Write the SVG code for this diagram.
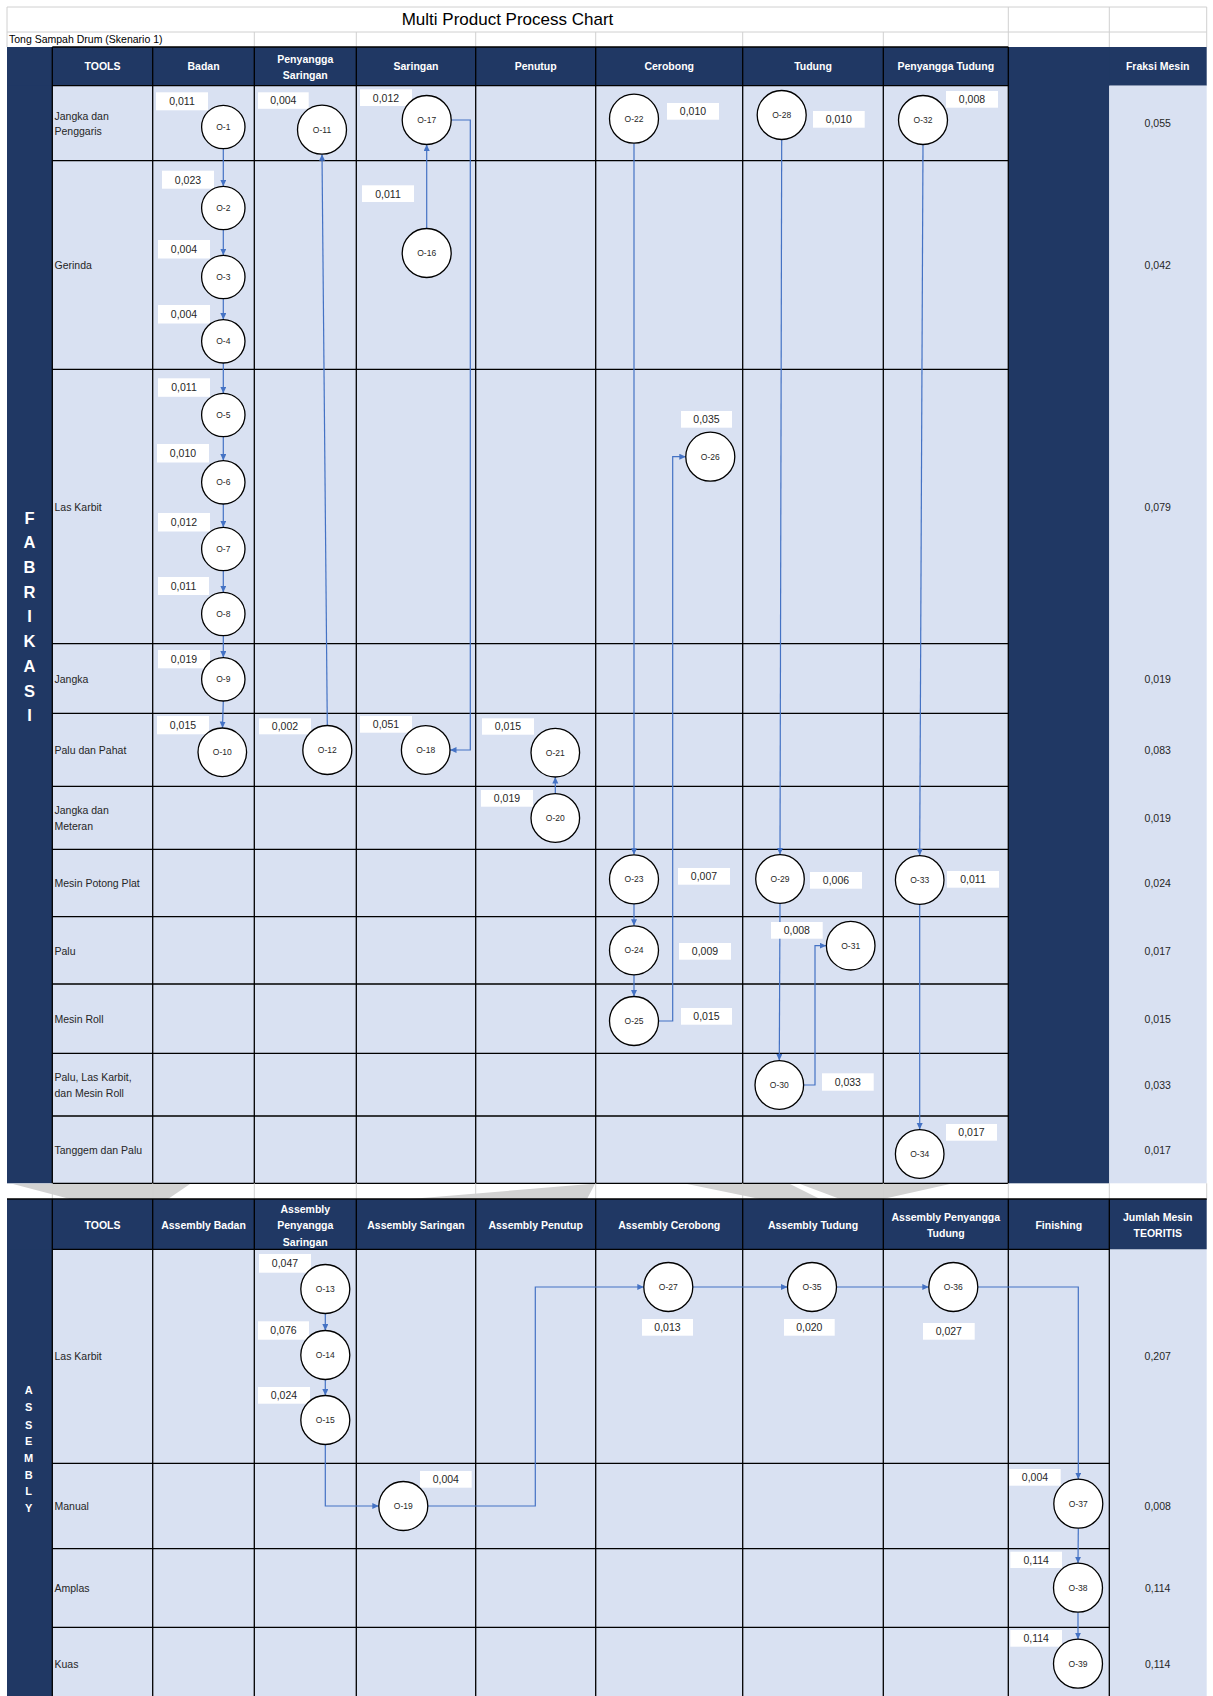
<svg xmlns="http://www.w3.org/2000/svg" width="1213" height="1696" viewBox="0 0 1213 1696">
<defs>
<style>
.bg{fill:#fff}
.cell{fill:#D9E1F2}
.dark{fill:#203864}
.grid{stroke:#000;stroke-width:1.3;fill:none}
.faint{stroke:#D0D0D0;stroke-width:1;fill:none}
.wm{fill:#D2D2D2}
text{font-family:"Liberation Sans",Arial,sans-serif}
.title{font-size:17px;fill:#000;text-anchor:middle}
.sub{font-size:10.5px;fill:#000}
.hdr{font-size:10.5px;font-weight:bold;fill:#fff;text-anchor:middle}
.side{font-size:16.5px;font-weight:bold;fill:#fff;text-anchor:middle}
.side2{font-size:11px;font-weight:bold;fill:#fff;text-anchor:middle}
.lbl{font-size:10.5px;fill:#262626}
.val{font-size:10.5px;fill:#262626;text-anchor:middle}
.tag{fill:#fff}
.node circle{fill:#fff;stroke:#000;stroke-width:1.3}
.nt{font-size:8.5px;fill:#262626;text-anchor:middle}
.conn{stroke:#4472C4;stroke-width:1.2;fill:none;marker-end:url(#ah)}
</style>
<marker id="ah" markerUnits="userSpaceOnUse" markerWidth="7" markerHeight="7" refX="6.5" refY="3" orient="auto">
<path d="M0,0 L6.5,3 L0,6 z" fill="#4472C4"/>
</marker>
</defs>
<rect class="bg" x="0" y="0" width="1213" height="1696"/>

<!-- watermark traces -->
<g id="watermark">
<polygon class="wm" points="13,1184 190,1184 168,1199 70,1199"/>
<polygon class="wm" points="410,1199 590,1184 595,1184 587,1199"/>
<polygon class="wm" points="687,1184 790,1184 820,1199 760,1199"/>
<polygon class="wm" points="800,1184 950,1184 883,1199 840,1199"/>
</g>

<!-- title rows -->
<g id="title">
<path class="faint" d="M7 7 H1206.7 M7 32 H1206.7 M7 7 V47 M1008.3 7 V47 M1109.3 7 V47 M1206.7 7 V47 M254.3 32 V47 M356.3 32 V47 M475.7 32 V47 M595.7 32 V47 M742.7 32 V47 M883.3 32 V47"/>
<text class="title" x="507.5" y="25">Multi Product Process Chart</text>
<text class="sub" x="9" y="43">Tong Sampah Drum (Skenario 1)</text>
</g>

<!-- fabrication table -->
<g id="fabrikasi-table">
<rect class="cell" x="52.3" y="85.7" width="956" height="1097.6"/>
<rect class="dark" x="7" y="47" width="45.3" height="1136.3"/>
<rect class="dark" x="7" y="47" width="1199.7" height="38.7"/>
<rect class="dark" x="1008.3" y="47" width="101" height="1136.3"/>
<rect class="cell" x="1109.3" y="85.7" width="97.4" height="1097.6"/>
<path class="grid" d="M52.3 47 H1008.3 M52.3 85.7 H1008.3 M52.3 160.7 H1008.3 M52.3 369.3 H1008.3 M52.3 643.7 H1008.3 M52.3 713.3 H1008.3 M52.3 786.3 H1008.3 M52.3 849.3 H1008.3 M52.3 916.7 H1008.3 M52.3 984 H1008.3 M52.3 1053.3 H1008.3 M52.3 1116 H1008.3 M52.3 1183.3 H1008.3"/>
<path class="grid" d="M52.3 47 V1183.3 M152.7 47 V1183.3 M254.3 47 V1183.3 M356.3 47 V1183.3 M475.7 47 V1183.3 M595.7 47 V1183.3 M742.7 47 V1183.3 M883.3 47 V1183.3 M1008.3 47 V1183.3"/>
<path class="faint" d="M52.3 1183.3 V1199 M152.7 1183.3 V1199 M254.3 1183.3 V1199 M356.3 1183.3 V1199 M475.7 1183.3 V1199 M595.7 1183.3 V1199 M742.7 1183.3 V1199 M883.3 1183.3 V1199 M1008.3 1183.3 V1199 M1109.3 1183.3 V1199 M1206.7 1183.3 V1199"/>
<text class="hdr" x="102.5" y="70">TOOLS</text>
<text class="hdr" x="203.5" y="70">Badan</text>
<text class="hdr" x="305.3" y="63">Penyangga</text>
<text class="hdr" x="305.3" y="79">Saringan</text>
<text class="hdr" x="416" y="70">Saringan</text>
<text class="hdr" x="535.7" y="70">Penutup</text>
<text class="hdr" x="669.2" y="70">Cerobong</text>
<text class="hdr" x="813" y="70">Tudung</text>
<text class="hdr" x="945.8" y="70">Penyangga Tudung</text>
<text class="hdr" x="1157.7" y="70">Fraksi Mesin</text>
<text class="side" x="29.5" y="523.5">F</text>
<text class="side" x="29.5" y="548">A</text>
<text class="side" x="29.5" y="573">B</text>
<text class="side" x="29.5" y="598">R</text>
<text class="side" x="29.5" y="622">I</text>
<text class="side" x="29.5" y="647">K</text>
<text class="side" x="29.5" y="672">A</text>
<text class="side" x="29.5" y="697">S</text>
<text class="side" x="29.5" y="721">I</text>
<text class="lbl" x="54.5" y="119.5">Jangka dan</text>
<text class="lbl" x="54.5" y="135">Penggaris</text>
<text class="lbl" x="54.5" y="269">Gerinda</text>
<text class="lbl" x="54.5" y="511">Las Karbit</text>
<text class="lbl" x="54.5" y="683">Jangka</text>
<text class="lbl" x="54.5" y="754">Palu dan Pahat</text>
<text class="lbl" x="54.5" y="814">Jangka dan</text>
<text class="lbl" x="54.5" y="830">Meteran</text>
<text class="lbl" x="54.5" y="887">Mesin Potong Plat</text>
<text class="lbl" x="54.5" y="955">Palu</text>
<text class="lbl" x="54.5" y="1023">Mesin Roll</text>
<text class="lbl" x="54.5" y="1081">Palu, Las Karbit,</text>
<text class="lbl" x="54.5" y="1097">dan Mesin Roll</text>
<text class="lbl" x="54.5" y="1154">Tanggem dan Palu</text>
<text class="val" x="1157.7" y="127">0,055</text>
<text class="val" x="1157.7" y="269">0,042</text>
<text class="val" x="1157.7" y="511">0,079</text>
<text class="val" x="1157.7" y="683">0,019</text>
<text class="val" x="1157.7" y="754">0,083</text>
<text class="val" x="1157.7" y="822">0,019</text>
<text class="val" x="1157.7" y="887">0,024</text>
<text class="val" x="1157.7" y="955">0,017</text>
<text class="val" x="1157.7" y="1023">0,015</text>
<text class="val" x="1157.7" y="1089">0,033</text>
<text class="val" x="1157.7" y="1154">0,017</text>
</g>

<!-- assembly table -->
<g id="assembly-table">
<rect class="cell" x="52.3" y="1249.3" width="1154.4" height="446.7"/>
<rect class="dark" x="7" y="1199" width="45.3" height="497"/>
<rect class="dark" x="7" y="1199" width="1199.7" height="50.3"/>
<path class="grid" d="M7 1199 H1206.7 M52.3 1249.3 H1109.3 M52.3 1463.3 H1109.3 M52.3 1548.7 H1109.3 M52.3 1627.3 H1109.3"/>
<path class="grid" d="M52.3 1199 V1696 M152.7 1199 V1696 M254.3 1199 V1696 M356.3 1199 V1696 M475.7 1199 V1696 M595.7 1199 V1696 M742.7 1199 V1696 M883.3 1199 V1696 M1008.3 1199 V1696 M1109.3 1199 V1696"/>
<text class="hdr" x="102.5" y="1229">TOOLS</text>
<text class="hdr" x="203.5" y="1229">Assembly Badan</text>
<text class="hdr" x="305.3" y="1213">Assembly</text>
<text class="hdr" x="305.3" y="1229">Penyangga</text>
<text class="hdr" x="305.3" y="1246">Saringan</text>
<text class="hdr" x="416" y="1229">Assembly Saringan</text>
<text class="hdr" x="535.7" y="1229">Assembly Penutup</text>
<text class="hdr" x="669.2" y="1229">Assembly Cerobong</text>
<text class="hdr" x="813" y="1229">Assembly Tudung</text>
<text class="hdr" x="945.8" y="1221">Assembly Penyangga</text>
<text class="hdr" x="945.8" y="1237">Tudung</text>
<text class="hdr" x="1058.8" y="1229">Finishing</text>
<text class="hdr" x="1157.7" y="1221">Jumlah Mesin</text>
<text class="hdr" x="1157.7" y="1237">TEORITIS</text>
<text class="side2" x="28.7" y="1394">A</text>
<text class="side2" x="28.7" y="1411.3">S</text>
<text class="side2" x="28.7" y="1428.7">S</text>
<text class="side2" x="28.7" y="1445">E</text>
<text class="side2" x="28.7" y="1461.7">M</text>
<text class="side2" x="28.7" y="1479">B</text>
<text class="side2" x="28.7" y="1495">L</text>
<text class="side2" x="28.7" y="1511.7">Y</text>
<text class="lbl" x="54.5" y="1360">Las Karbit</text>
<text class="lbl" x="54.5" y="1510">Manual</text>
<text class="lbl" x="54.5" y="1592">Amplas</text>
<text class="lbl" x="54.5" y="1668">Kuas</text>
<text class="val" x="1157.7" y="1360">0,207</text>
<text class="val" x="1157.7" y="1510">0,008</text>
<text class="val" x="1157.7" y="1592">0,114</text>
<text class="val" x="1157.7" y="1668">0,114</text>
</g>

<!-- connectors -->
<g id="connectors">
<path class="conn" d="M223.3 148.7 V186.3"/>
<path class="conn" d="M223.3 229.7 V255.3"/>
<path class="conn" d="M223.3 298.7 V319.6"/>
<path class="conn" d="M223.3 363 V393.3"/>
<path class="conn" d="M223.3 436.7 V460.6"/>
<path class="conn" d="M223.3 504 V527.3"/>
<path class="conn" d="M223.3 570.7 V592.3"/>
<path class="conn" d="M223.3 635.7 V657.6"/>
<path class="conn" d="M223.3 701 L222.5 728"/>
<path class="conn" d="M327.3 725.5 L322 154.2"/>
<path class="conn" d="M426.7 228.5 V144.5"/>
<path class="conn" d="M451.2 120 H470.3 V750 H450"/>
<path class="conn" d="M555.3 793.5 V777"/>
<path class="conn" d="M634 143.2 V854.8"/>
<path class="conn" d="M634 903.8 V925.8"/>
<path class="conn" d="M634 974.8 V996.5"/>
<path class="conn" d="M658.5 1021 H672.7 V456.7 H685.8"/>
<path class="conn" d="M781.7 139.5 L780 854.5"/>
<path class="conn" d="M780 903.5 L779.3 1060.5"/>
<path class="conn" d="M803.8 1085 H815 V945.7 H826.2"/>
<path class="conn" d="M923 144.5 L919.7 855.5"/>
<path class="conn" d="M919.7 904.5 V1129.5"/>
<path class="conn" d="M325.3 1313.5 V1330.5"/>
<path class="conn" d="M325.3 1379.5 V1395.5"/>
<path class="conn" d="M325.3 1444.5 V1506 H378.8"/>
<path class="conn" d="M427.8 1506 H535.3 V1287 H643.8"/>
<path class="conn" d="M692.8 1287 H787.5"/>
<path class="conn" d="M836.5 1287 H928.8"/>
<path class="conn" d="M977.8 1287 H1078.3 V1479.2"/>
<path class="conn" d="M1078.3 1528.2 L1078 1563.2"/>
<path class="conn" d="M1078 1612.2 V1639.2"/>
</g>

<!-- nodes -->
<g id="O-1" class="node"><rect class="tag" x="156" y="92.3" width="52" height="18"/><text class="val" x="182" y="105">0,011</text><circle cx="223.3" cy="127" r="21.7"/><text class="nt" x="223.3" y="130">O-1</text></g>
<g id="O-2" class="node"><rect class="tag" x="162" y="170.7" width="52" height="18"/><text class="val" x="188" y="183.5">0,023</text><circle cx="223.3" cy="208" r="21.7"/><text class="nt" x="223.3" y="211">O-2</text></g>
<g id="O-3" class="node"><rect class="tag" x="158" y="240" width="52" height="18.5"/><text class="val" x="184" y="253">0,004</text><circle cx="223.3" cy="277" r="21.7"/><text class="nt" x="223.3" y="280">O-3</text></g>
<g id="O-4" class="node"><rect class="tag" x="158" y="305" width="52" height="18.5"/><text class="val" x="184" y="318">0,004</text><circle cx="223.3" cy="341.3" r="21.7"/><text class="nt" x="223.3" y="344.3">O-4</text></g>
<g id="O-5" class="node"><rect class="tag" x="158" y="378.3" width="52" height="18.5"/><text class="val" x="184" y="391.3">0,011</text><circle cx="223.3" cy="415" r="21.7"/><text class="nt" x="223.3" y="418">O-5</text></g>
<g id="O-6" class="node"><rect class="tag" x="157" y="444" width="52" height="18.5"/><text class="val" x="183" y="457">0,010</text><circle cx="223.3" cy="482.3" r="21.7"/><text class="nt" x="223.3" y="485.3">O-6</text></g>
<g id="O-7" class="node"><rect class="tag" x="158" y="513" width="52" height="18.5"/><text class="val" x="184" y="526">0,012</text><circle cx="223.3" cy="549" r="21.7"/><text class="nt" x="223.3" y="552">O-7</text></g>
<g id="O-8" class="node"><rect class="tag" x="158" y="577" width="51" height="18"/><text class="val" x="183.5" y="589.7">0,011</text><circle cx="223.3" cy="614" r="21.7"/><text class="nt" x="223.3" y="617">O-8</text></g>
<g id="O-9" class="node"><rect class="tag" x="158" y="650" width="52" height="18.3"/><text class="val" x="184" y="662.8">0,019</text><circle cx="223.3" cy="679.3" r="21.7"/><text class="nt" x="223.3" y="682.3">O-9</text></g>
<g id="O-10" class="node"><rect class="tag" x="157" y="716" width="52" height="18.3"/><text class="val" x="183" y="728.8">0,015</text><circle cx="222.3" cy="752.3" r="24.3"/><text class="nt" x="222.3" y="755.3">O-10</text></g>
<g id="O-11" class="node"><rect class="tag" x="258" y="92.3" width="50.7" height="16.5"/><text class="val" x="283.3" y="104.3">0,004</text><circle cx="322" cy="129.7" r="24.5"/><text class="nt" x="322" y="132.7">O-11</text></g>
<g id="O-12" class="node"><rect class="tag" x="259" y="718.3" width="52" height="16"/><text class="val" x="285" y="730">0,002</text><circle cx="327.3" cy="750" r="24.5"/><text class="nt" x="327.3" y="753">O-12</text></g>
<g id="O-13" class="node"><rect class="tag" x="259" y="1254" width="52" height="18.7"/><text class="val" x="285" y="1267">0,047</text><circle cx="325.3" cy="1289" r="24.5"/><text class="nt" x="325.3" y="1292">O-13</text></g>
<g id="O-14" class="node"><rect class="tag" x="258" y="1321.3" width="51" height="18.4"/><text class="val" x="283.5" y="1334.3">0,076</text><circle cx="325.3" cy="1355" r="24.5"/><text class="nt" x="325.3" y="1358">O-14</text></g>
<g id="O-15" class="node"><rect class="tag" x="258" y="1387" width="52" height="16.7"/><text class="val" x="284" y="1399.2">0,024</text><circle cx="325.3" cy="1420" r="24.5"/><text class="nt" x="325.3" y="1423">O-15</text></g>
<g id="O-16" class="node"><rect class="tag" x="362" y="185.3" width="52" height="16.7"/><text class="val" x="388" y="197.5">0,011</text><circle cx="426.7" cy="253" r="24.5"/><text class="nt" x="426.7" y="256">O-16</text></g>
<g id="O-17" class="node"><rect class="tag" x="360" y="89.3" width="52" height="16.7"/><text class="val" x="386" y="101.5">0,012</text><circle cx="426.7" cy="120" r="24.5"/><text class="nt" x="426.7" y="123">O-17</text></g>
<g id="O-18" class="node"><rect class="tag" x="360" y="716" width="52" height="16.7"/><text class="val" x="386" y="728.2">0,051</text><circle cx="425.7" cy="750" r="24.3"/><text class="nt" x="425.7" y="753">O-18</text></g>
<g id="O-19" class="node"><rect class="tag" x="420" y="1471" width="51.7" height="16.7"/><text class="val" x="445.8" y="1483.2">0,004</text><circle cx="403.3" cy="1506" r="24.5"/><text class="nt" x="403.3" y="1509">O-19</text></g>
<g id="O-20" class="node"><rect class="tag" x="481" y="790" width="52" height="16.7"/><text class="val" x="507" y="802.2">0,019</text><circle cx="555.3" cy="818" r="24.3"/><text class="nt" x="555.3" y="821">O-20</text></g>
<g id="O-21" class="node"><rect class="tag" x="482" y="718.3" width="52" height="16.4"/><text class="val" x="508" y="730.3">0,015</text><circle cx="555.3" cy="752.7" r="24.3"/><text class="nt" x="555.3" y="755.7">O-21</text></g>
<g id="O-22" class="node"><rect class="tag" x="667" y="103" width="52" height="16.7"/><text class="val" x="693" y="115.2">0,010</text><circle cx="634" cy="118.7" r="24.5"/><text class="nt" x="634" y="121.7">O-22</text></g>
<g id="O-23" class="node"><rect class="tag" x="678" y="868" width="52" height="16.7"/><text class="val" x="704" y="880.2">0,007</text><circle cx="634" cy="879.3" r="24.5"/><text class="nt" x="634" y="882.3">O-23</text></g>
<g id="O-24" class="node"><rect class="tag" x="679" y="943" width="52" height="16.7"/><text class="val" x="705" y="955.2">0,009</text><circle cx="634" cy="950.3" r="24.5"/><text class="nt" x="634" y="953.3">O-24</text></g>
<g id="O-25" class="node"><rect class="tag" x="681" y="1008" width="51" height="16.7"/><text class="val" x="706.5" y="1020.2">0,015</text><circle cx="634" cy="1021" r="24.5"/><text class="nt" x="634" y="1024">O-25</text></g>
<g id="O-26" class="node"><rect class="tag" x="681" y="411" width="51" height="16.7"/><text class="val" x="706.5" y="423.2">0,035</text><circle cx="710.3" cy="456.7" r="24.5"/><text class="nt" x="710.3" y="459.7">O-26</text></g>
<g id="O-27" class="node"><rect class="tag" x="642" y="1319" width="51" height="16.7"/><text class="val" x="667.5" y="1331.2">0,013</text><circle cx="668.3" cy="1287" r="24.5"/><text class="nt" x="668.3" y="1290">O-27</text></g>
<g id="O-28" class="node"><rect class="tag" x="813" y="111" width="51.7" height="16.7"/><text class="val" x="838.8" y="123.2">0,010</text><circle cx="781.7" cy="115" r="24.5"/><text class="nt" x="781.7" y="118">O-28</text></g>
<g id="O-29" class="node"><rect class="tag" x="810" y="872" width="52" height="16.7"/><text class="val" x="836" y="884.2">0,006</text><circle cx="780" cy="879" r="24.3"/><text class="nt" x="780" y="882">O-29</text></g>
<g id="O-30" class="node"><rect class="tag" x="822" y="1073.3" width="51.7" height="17.4"/><text class="val" x="847.8" y="1085.8">0,033</text><circle cx="779.3" cy="1085" r="24.3"/><text class="nt" x="779.3" y="1088">O-30</text></g>
<g id="O-31" class="node"><rect class="tag" x="771" y="922" width="51.7" height="16.7"/><text class="val" x="796.8" y="934.2">0,008</text><circle cx="850.7" cy="945.7" r="24.3"/><text class="nt" x="850.7" y="948.7">O-31</text></g>
<g id="O-32" class="node"><rect class="tag" x="946" y="91" width="52" height="16.7"/><text class="val" x="972" y="103.2">0,008</text><circle cx="923" cy="120" r="24.5"/><text class="nt" x="923" y="123">O-32</text></g>
<g id="O-33" class="node"><rect class="tag" x="947" y="871" width="52" height="16.7"/><text class="val" x="973" y="883.2">0,011</text><circle cx="919.7" cy="880" r="24.3"/><text class="nt" x="919.7" y="883">O-33</text></g>
<g id="O-34" class="node"><rect class="tag" x="946" y="1124" width="51" height="16.7"/><text class="val" x="971.5" y="1136.2">0,017</text><circle cx="919.7" cy="1154" r="24.3"/><text class="nt" x="919.7" y="1157">O-34</text></g>
<g id="O-35" class="node"><rect class="tag" x="784" y="1319" width="50.7" height="16.7"/><text class="val" x="809.3" y="1331.2">0,020</text><circle cx="812" cy="1287" r="24.5"/><text class="nt" x="812" y="1290">O-35</text></g>
<g id="O-36" class="node"><rect class="tag" x="923" y="1323" width="51.7" height="16.7"/><text class="val" x="948.8" y="1335.2">0,027</text><circle cx="953.3" cy="1287" r="24.5"/><text class="nt" x="953.3" y="1290">O-36</text></g>
<g id="O-37" class="node"><rect class="tag" x="1009.3" y="1469" width="51.4" height="16.7"/><text class="val" x="1035" y="1481.2">0,004</text><circle cx="1078.3" cy="1503.7" r="24.5"/><text class="nt" x="1078.3" y="1506.7">O-37</text></g>
<g id="O-38" class="node"><rect class="tag" x="1010.3" y="1551.7" width="51.7" height="16.3"/><text class="val" x="1036.2" y="1563.7">0,114</text><circle cx="1078" cy="1587.7" r="24.5"/><text class="nt" x="1078" y="1590.7">O-38</text></g>
<g id="O-39" class="node"><rect class="tag" x="1010.3" y="1630" width="51.7" height="16.7"/><text class="val" x="1036.2" y="1642.2">0,114</text><circle cx="1078" cy="1663.7" r="24.5"/><text class="nt" x="1078" y="1666.7">O-39</text></g>
</svg>
